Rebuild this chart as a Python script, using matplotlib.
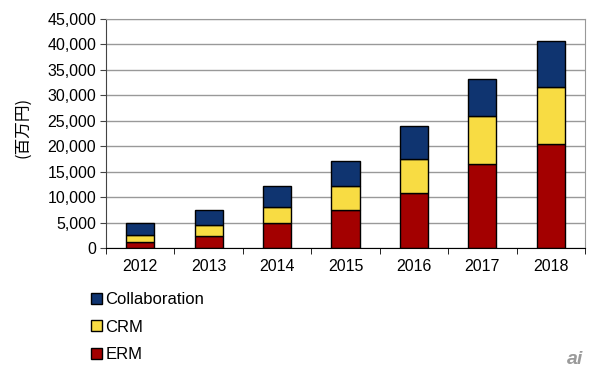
import matplotlib.pyplot as plt
import numpy as np
from matplotlib.patches import Patch

plt.rcParams['font.family'] = ['Liberation Sans', 'Noto Sans CJK JP', 'DejaVu Sans']

# 年度と各セグメントの値 (百万円)
years = ["2012", "2013", "2014", "2015", "2016", "2017", "2018"]
erm = [1180, 2290, 4840, 7390, 10790, 16420, 20470]
crm = [1310, 2160, 3270, 4710, 6740, 9480, 11250]
collab = [2350, 3070, 4120, 5040, 6410, 7330, 8960]

fig = plt.figure(figsize=(5.93, 3.78), dpi=100)
ax = fig.add_axes([106 / 593, 1 - 248 / 378, 479 / 593, 229 / 378])

x = np.arange(len(years))
w = 0.41
c_erm, c_crm, c_col = "#A30000", "#F8DC43", "#0F3470"
ax.bar(x, erm, w, color=c_erm, edgecolor="black", linewidth=1, zorder=3)
ax.bar(x, crm, w, bottom=erm, color=c_crm, edgecolor="black", linewidth=1, zorder=3)
bottom2 = np.array(erm) + np.array(crm)
ax.bar(x, collab, w, bottom=bottom2, color=c_col, edgecolor="black", linewidth=1, zorder=3)

ax.set_xlim(-0.5, len(years) - 0.5)
ax.set_ylim(0, 45000)
ax.set_yticks(range(0, 45001, 5000))
ax.set_yticklabels([f"{v:,}" for v in range(0, 45001, 5000)], fontsize=11.5)
ax.set_xticks(x)
ax.set_xticklabels(years, fontsize=11.5)
ax.set_xticks(np.arange(-0.5, len(years)), minor=True)
ax.tick_params(axis='x', which='major', length=0, pad=8)
ax.tick_params(axis='x', which='minor', length=4, color="black", direction="out")
ax.tick_params(axis='y', length=4, color="#444444", pad=3)
ax.grid(axis='y', color="#999999", linewidth=1, zorder=0)

for s in ["top", "right"]:
    ax.spines[s].set_color("#999999")
ax.spines["left"].set_color("#444444")
ax.spines["bottom"].set_color("black")
ax.spines["bottom"].set_zorder(4)

ax.set_ylabel("(百万円)", family=['Noto Sans CJK JP', 'DejaVu Sans'], fontsize=12)
ax.yaxis.set_label_coords(-(106 - 31) / 479, (248 - 127) / 229)

handles = [Patch(facecolor=c_col, edgecolor="black", label="Collaboration"),
           Patch(facecolor=c_crm, edgecolor="black", label="CRM"),
           Patch(facecolor=c_erm, edgecolor="black", label="ERM")]
fig.legend(handles=handles, loc="upper left", bbox_to_anchor=(91 / 593, 1 - 292 / 378),
           frameon=False, fontsize=12, handlelength=0.65, handleheight=0.65,
           handletextpad=0.2, labelspacing=0.75, borderaxespad=0, borderpad=0)

fig.text(575 / 593, 1 - 360 / 378, "ai", fontsize=14, fontweight="bold", style="italic",
         color="#9a9a9a", ha="center", va="center")

fig.savefig("out.png", dpi=100)
